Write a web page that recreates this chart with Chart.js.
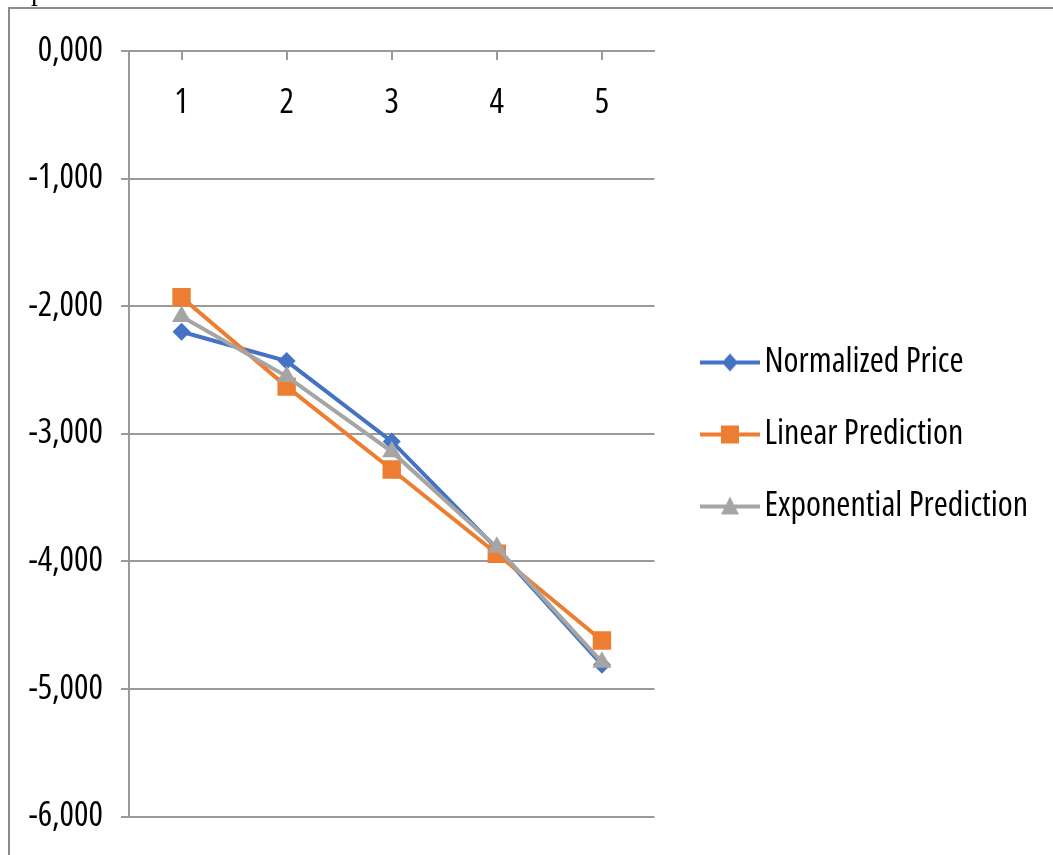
<!DOCTYPE html>
<html>
<head>
<meta charset="utf-8">
<script src="https://cdn.jsdelivr.net/npm/chart.js@4.4.1/dist/chart.umd.min.js"></script>
<style>
  html, body { margin: 0; padding: 0; background: #fff; }
  #wrap { position: relative; width: 1053px; height: 855px; }
</style>
</head>
<body>
<div id="wrap"><canvas id="myChart"></canvas></div>
<script>
var categories = ['1', '2', '3', '4', '5'];
var normalizedPrice = [-2.20, -2.43, -3.06, -3.90, -4.81];
var linearPrediction = [-1.93, -2.63, -3.28, -3.94, -4.62];
var exponentialPrediction = [-2.08, -2.55, -3.14, -3.89, -4.79];
var seriesNames = ['Normalized Price', 'Linear Prediction', 'Exponential Prediction'];

// Open Sans has a condensed face installed; 'condensed' goes into the font string as the stretch keyword
var labelFont = { family: "'Open Sans', sans-serif", size: 34, weight: 'condensed' };
var GRID = '#9a9a9a';

// little legend picture: line with the marker in the middle
// (canvas is wider on the left so the line sits right next to the text)
function legendIcon(color, style) {
  var c = document.createElement('canvas');
  c.width = 80; c.height = 24;
  var g = c.getContext('2d');
  var m = 50;
  g.strokeStyle = color;
  g.lineWidth = 4;
  g.beginPath(); g.moveTo(20, 12); g.lineTo(80, 12); g.stroke();
  g.fillStyle = color;
  g.beginPath();
  if (style === 'rectRot') {
    g.moveTo(m, 3); g.lineTo(m + 8, 12); g.lineTo(m, 21); g.lineTo(m - 8, 12);
  } else if (style === 'rect') {
    g.rect(m - 9, 3, 18, 18);
  } else {
    g.moveTo(m, 2); g.lineTo(m + 9, 20); g.lineTo(m - 9, 20);
  }
  g.closePath(); g.fill();
  return c;
}

// chart frame (top/left edges) and the clipped letter above it
var frame = {
  id: 'frame',
  beforeDraw: function(chart) {
    var c = chart.ctx;
    c.save();
    c.strokeStyle = '#8c8c8c';
    c.lineWidth = 2;
    c.beginPath();
    c.moveTo(9, chart.height); c.lineTo(9, 8); c.lineTo(chart.width, 8);
    c.stroke();
    c.fillStyle = '#000';
    c.font = "28px 'Liberation Serif', serif";
    c.fillText('p', 31, 0);
    c.restore();
  }
};

var ctx = document.getElementById('myChart').getContext('2d');

var myChart = new Chart(ctx, {
    type: 'line',
    data: {
        labels: categories,
        datasets: [{
            label: seriesNames[0],
            data: normalizedPrice,
            borderColor: '#4472C4',
            backgroundColor: '#4472C4',
            pointStyle: 'rectRot',
            pointRadius: 9,
            order: 3,
            icon: legendIcon('#4472C4', 'rectRot')
        }, {
            label: seriesNames[1],
            data: linearPrediction,
            borderColor: '#ED7D31',
            backgroundColor: '#ED7D31',
            pointStyle: 'rect',
            pointRadius: 13,
            order: 2,
            icon: legendIcon('#ED7D31', 'rect')
        }, {
            label: seriesNames[2],
            data: exponentialPrediction,
            borderColor: '#A5A5A5',
            backgroundColor: '#A5A5A5',
            pointStyle: 'triangle',
            pointRadius: 11,
            order: 1,
            icon: legendIcon('#A5A5A5', 'triangle')
        }]
    },
    options: {
        responsive: true,
        maintainAspectRatio: false,
        animation: false,
        datasets: {
            line: { borderWidth: 4, pointBorderWidth: 0, tension: 0 }
        },
        layout: {
            padding: { top: 51, bottom: 37, left: 0, right: 15 }
        },
        scales: {
            x: {
                position: { y: 0 },
                offset: true,
                grid: { display: true, drawOnChartArea: false, tickLength: 8, color: GRID, lineWidth: 2 },
                border: { display: true, color: GRID, width: 2 },
                ticks: { padding: 24, color: '#000', font: labelFont }
            },
            y: {
                min: -6,
                max: 0,
                afterFit: function(scale) { scale.width = 129; },
                grid: { color: GRID, lineWidth: 2, tickLength: 8 },
                border: { display: true, color: GRID, width: 2 },
                ticks: {
                    stepSize: 1,
                    padding: 18,
                    color: '#000',
                    font: labelFont,
                    callback: function(value) {
                        return value.toFixed(3).replace('.', ',');
                    }
                }
            }
        },
        plugins: {
            legend: {
                display: true,
                position: 'right',
                maxWidth: 400,
                labels: {
                    usePointStyle: true,
                    pointStyleWidth: 55,
                    padding: 38,
                    color: '#000',
                    font: labelFont,
                    generateLabels: function(chart) {
                        return chart.data.datasets.map(function(ds, i) {
                            return {
                                text: ds.label,
                                pointStyle: ds.icon,
                                fillStyle: ds.borderColor,
                                strokeStyle: ds.borderColor,
                                fontColor: '#000',
                                lineWidth: 0,
                                hidden: !chart.isDatasetVisible(i),
                                datasetIndex: i
                            };
                        });
                    }
                }
            }
        }
    },
    plugins: [frame]
});
</script>
</body>
</html>
